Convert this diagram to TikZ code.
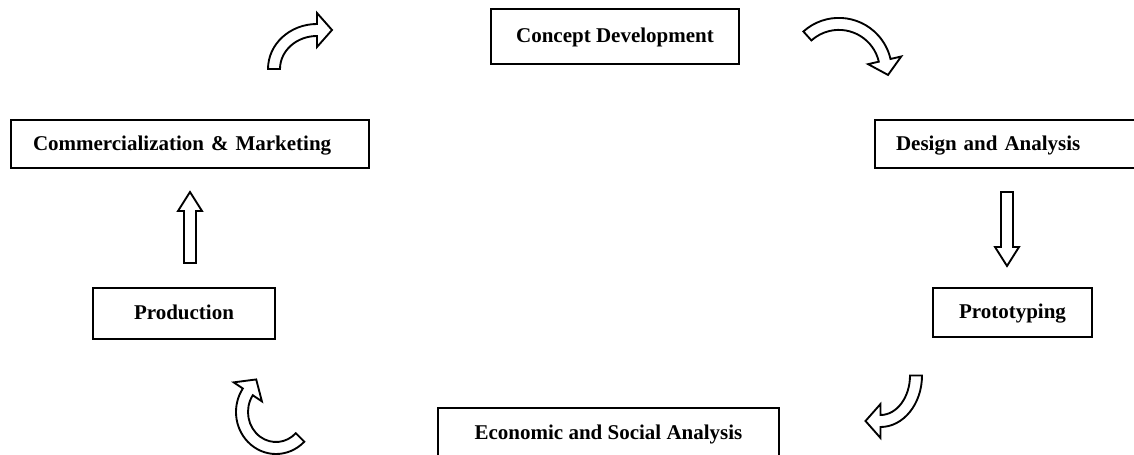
\documentclass[tikz,border=0pt]{standalone}
\usepackage{fontspec}
\setmainfont{Liberation Serif}
\usetikzlibrary{positioning, calc}
\tikzset{
    x=0.75pt, y=0.75pt, % one unit is one pixel of the page
    stage/.style={draw, line width=1.5pt, inner sep=0pt, text height=10.4pt, text depth=1pt, font=\bfseries\fontsize{15.75}{18}\selectfont}, % the boxes
    blockline/.style={draw, line width=1.4pt, fill=white, line join=miter}, % outline of the hollow arrows
    pics/straightarrow/.style={code={% #1 is the length
        \draw[blockline] (0,-6) -- (#1-19,-6) -- (#1-19,-12) -- (#1,0) -- (#1-19,12) -- (#1-19,6) -- (0,6) -- cycle;
    }},
    pics/bendarrow/.style n args={4}{code={% start angle, end angle, x radius, y radius
        \pgfmathsetmacro\tdir{#2<#1 ? #2-90 : #2+90}
        \pgfmathsetmacro\oxr{#3+6}\pgfmathsetmacro\oyr{#4+6}
        \pgfmathsetmacro\ixr{#3-6}\pgfmathsetmacro\iyr{#4-6}
        \draw[blockline] ({\oxr*cos(#1)},{\oyr*sin(#1)}) arc[start angle=#1, end angle=#2, x radius=\oxr, y radius=\oyr]
            -- ({(#3+17)*cos(#2)},{(#4+17)*sin(#2)})
            -- ($({#3*cos(#2)},{#4*sin(#2)})+(\tdir:15)$)
            -- ({(#3-17)*cos(#2)},{(#4-17)*sin(#2)})
            -- ({\ixr*cos(#2)},{\iyr*sin(#2)}) arc[start angle=#2, end angle=#1, x radius=\ixr, y radius=\iyr] -- cycle;
    }},
}
\begin{document}
\begin{tikzpicture}
    \useasboundingbox (0,0) rectangle (1134,454);
    \node[stage, minimum width=186pt, minimum height=41.25pt] (concept) at (615,417.5) {Concept Development};
    \node[stage, anchor=west, text width=171.75pt, inner xsep=15.75pt, minimum height=36pt, align=left] (design) at (874,310) {Design and Analysis};
    \node[stage, anchor=west, text width=235.5pt, inner xsep=16.5pt, minimum height=36pt, align=left] (commerce) at (10,310) {Commercialization \& Marketing};
    \node[stage, minimum width=136.5pt, minimum height=38.25pt] (production) at (184,140.5) {Production};
    \node[stage, minimum width=119.25pt, minimum height=36.75pt] (prototype) at (1012.5,141.5) {Prototyping};
    \node[stage, minimum width=255.75pt, minimum height=37.5pt] (economic) at (608.5,21) {Economic and Social Analysis};

    % hollow arrows round the cycle
    \pic at (317,385) {bendarrow={180}{90}{43}{39}};
    \pic at (838.85,383.1) {bendarrow={132}{13}{47}{47}};
    \pic[rotate=-90] at (1007,262) {straightarrow=74};
    \pic at (880.5,78.5) {bendarrow={0}{-90}{35.5}{45.5}};
    \pic at (276,42) {bendarrow={-45}{-214}{34}{36}};
    \pic[rotate=90] at (190,191) {straightarrow=71};
\end{tikzpicture}
\end{document}
